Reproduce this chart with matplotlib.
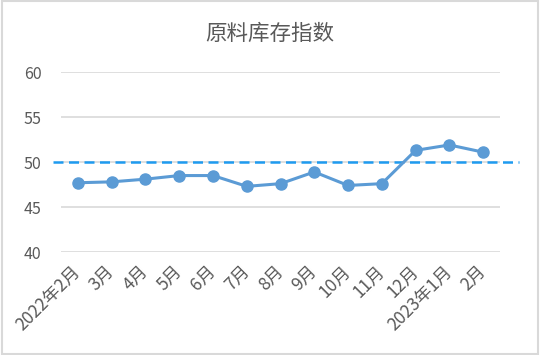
import matplotlib.pyplot as plt
from matplotlib.patches import Rectangle

plt.rcParams['font.family'] = ['Noto Sans CJK SC', 'DejaVu Sans']

months = ['2022年2月', '3月', '4月', '5月', '6月', '7月', '8月', '9月',
          '10月', '11月', '12月', '2023年1月', '2月']
index_values = [47.7, 47.8, 48.1, 48.5, 48.5, 47.3, 47.6, 48.9, 47.4, 47.6, 51.3, 51.9, 51.1]
threshold = 50
y_ticks = [40, 45, 50, 55, 60]

fig = plt.figure(figsize=(5.4, 3.55), dpi=100)
ax = fig.add_axes([0.113, 0.290, 0.813, 0.507])

x = list(range(len(months)))

ax.set_xlim(-0.5, len(months) - 0.5)
ax.set_ylim(40, 60)
ax.set_yticks(y_ticks)
ax.yaxis.grid(True, color='#d9d9d9', linewidth=1.2)
ax.set_axisbelow(True)

# 50 reference line, runs a little past the plot area
ax.plot([-0.74, len(months) + 0.06], [threshold, threshold], color='#1e9bf0',
        linewidth=1.8, linestyle=(0, (4, 2.2)), clip_on=False, zorder=3)

ax.plot(x, index_values, color='#5b9bd5', linewidth=2.2, marker='o',
        markersize=8, zorder=4)

ax.set_xticks(x)
ax.set_xticklabels(months, rotation=45, ha='right', va='center', rotation_mode='anchor')
ax.tick_params(axis='both', length=0, labelsize=11.5, colors='#595959')
ax.tick_params(axis='x', pad=12, labelsize=12.5)
ax.tick_params(axis='y', pad=14)

for s in ax.spines.values():
    s.set_visible(False)

fig.text(0.5, 0.905, '原料库存指数', ha='center', va='center', fontsize=15.5, color='#595959')

fig.patches.append(Rectangle((0.003, 0.004), 0.994, 0.992, transform=fig.transFigure,
                             fill=False, edgecolor='#d9d9d9', linewidth=1.5))

fig.savefig('out.png', dpi=100)
